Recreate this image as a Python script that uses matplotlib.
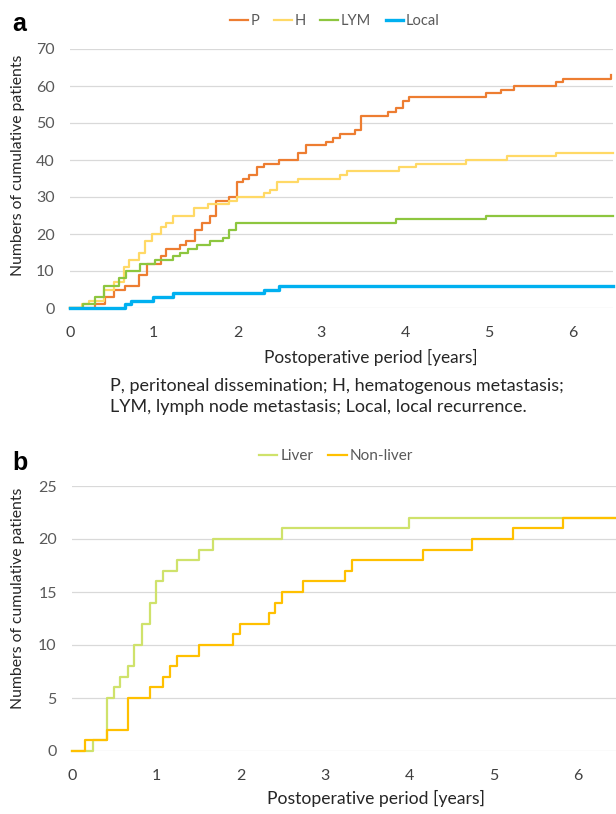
# Cumulative recurrence curves by pattern (a) and liver vs non-liver (b)

import matplotlib
matplotlib.use("Agg")
import matplotlib.pyplot as plt

plt.rcParams["font.family"] = ["Lato", "DejaVu Sans"]

# panel a: recurrence pattern, step times in years and cumulative counts
p_years = [0, 0.30, 0.42, 0.52, 0.66, 0.82, 0.92, 1.08, 1.15, 1.31, 1.38, 1.49, 1.57,
           1.67, 1.74, 1.90, 1.99, 2.07, 2.14, 2.23, 2.32, 2.49, 2.72, 2.82, 3.06, 3.14,
           3.22, 3.40, 3.47, 3.80, 3.89, 3.97, 4.05, 4.96, 5.14, 5.30, 5.80, 5.88, 6.46]
p_counts = [0, 1, 3, 5, 6, 9, 12, 14, 16, 17, 18, 21, 23, 25, 29, 30, 34, 35, 36, 38,
            39, 40, 42, 44, 45, 46, 47, 48, 52, 53, 54, 56, 57, 58, 59, 60, 61, 62, 63]

h_years = [0, 0.14, 0.23, 0.40, 0.52, 0.65, 0.70, 0.82, 0.90, 0.98, 1.08, 1.15, 1.23,
           1.48, 1.65, 1.90, 1.99, 2.32, 2.39, 2.47, 2.72, 3.22, 3.30, 3.93, 4.13, 4.72,
           5.22, 5.80, 6.48]
h_counts = [0, 1, 2, 5, 7, 11, 13, 15, 18, 20, 22, 23, 25, 27, 28, 29, 30, 31, 32, 34,
            35, 36, 37, 38, 39, 40, 41, 42, 42]

lym_years = [0, 0.16, 0.30, 0.41, 0.58, 0.67, 0.83, 1.01, 1.23, 1.31, 1.41, 1.51, 1.67,
             1.82, 1.90, 1.98, 3.89, 4.97, 6.48]
lym_counts = [0, 1, 3, 6, 8, 10, 12, 13, 14, 15, 16, 17, 18, 19, 21, 23, 24, 25, 25]

local_years = [0, 0.66, 0.73, 0.99, 1.23, 2.31, 2.49, 6.48]
local_counts = [0, 1, 2, 3, 4, 5, 6, 6]

# panel b: liver vs non-liver
liver_years = [0, 0.25, 0.42, 0.50, 0.57, 0.66, 0.74, 0.83, 0.92, 1.00, 1.08, 1.25,
               1.50, 1.67, 2.49, 3.99, 6.45]
liver_counts = [0, 1, 5, 6, 7, 8, 10, 12, 14, 16, 17, 18, 19, 20, 21, 22, 22]

nonliver_years = [0, 0.15, 0.42, 0.66, 0.92, 1.08, 1.16, 1.25, 1.50, 1.91, 1.99, 2.33,
                  2.41, 2.49, 2.74, 3.24, 3.32, 4.16, 4.74, 5.23, 5.82, 6.45]
nonliver_counts = [0, 1, 2, 5, 6, 7, 8, 9, 10, 11, 12, 13, 14, 15, 16, 17, 18, 19, 20,
                   21, 22, 22]

x_ticks = [0, 1, 2, 3, 4, 5, 6]
a_yticks = [0, 10, 20, 30, 40, 50, 60, 70]
b_yticks = [0, 5, 10, 15, 20, 25]

grid_col = "#D9D9D9"
tick_col = "#595959"
W, H = 616, 814

fig = plt.figure(figsize=(6.16, 8.14), dpi=100)


def style(ax, yticks, xmax):
    for s in ax.spines.values():
        s.set_visible(False)
    ax.set_xlim(0, xmax)
    ax.set_ylim(0, yticks[-1])
    ax.set_yticks(yticks)
    ax.set_xticks(x_ticks)
    ax.yaxis.grid(True, color=grid_col, lw=0.9)
    ax.set_axisbelow(True)
    ax.tick_params(length=0, labelsize=11.5, colors=tick_col, pad=11)
    ax.tick_params(axis="x", pad=13, labelcolor="#404040")


# ---- panel a
ax1 = fig.add_axes([70 / W, 1 - 308 / H, 543 / W, 259 / H])
style(ax1, a_yticks, 6.48)
l1, = ax1.step(p_years, p_counts, where="post", color="#ED7D31", lw=1.6, label="P")
l2, = ax1.step(h_years, h_counts, where="post", color="#FFD966", lw=1.6, label="H")
l3, = ax1.step(lym_years, lym_counts, where="post", color="#8DC63F", lw=1.6, label="LYM")
l4, = ax1.step(local_years, local_counts, where="post", color="#00B0F0", lw=2.4, label="Local")
for ln in (l1, l2, l3, l4):
    ln.set_clip_on(False)

fig.legend(handles=[l1, l2, l3, l4], loc="center", bbox_to_anchor=(335 / W, 1 - 21 / H),
           ncol=4, frameon=False, fontsize=10.5, handlelength=1.2, handletextpad=0.2,
           columnspacing=1.0, labelcolor=tick_col)

fig.text(12 / W, 1 - 24 / H, "a", fontsize=18, fontweight="bold",
         family="Liberation Sans", va="center")
fig.text(18 / W, 1 - 165 / H, "Numbers of cumulative patients", rotation=90,
         fontsize=11.3, color="#262626", ha="center", va="center")
fig.text(371 / W, 1 - 357 / H, "Postoperative period [years]", fontsize=12.4,
         color="#262626", ha="center", va="center")
fig.text(110 / W, 1 - 386 / H, "P, peritoneal dissemination; H, hematogenous metastasis;",
         fontsize=13, color="#262626", ha="left", va="center")
fig.text(110 / W, 1 - 407 / H, "LYM, lymph node metastasis; Local, local recurrence.",
         fontsize=13, color="#262626", ha="left", va="center")

# ---- panel b
ax2 = fig.add_axes([72 / W, 1 - 751 / H, 544 / W, 265 / H])
style(ax2, b_yticks, 6.45)
m1, = ax2.step(liver_years, liver_counts, where="post", color="#CFE26B", lw=1.6, label="Liver")
m2, = ax2.step(nonliver_years, nonliver_counts, where="post", color="#FFC000", lw=1.6,
               label="Non-liver")
for ln in (m1, m2):
    ln.set_clip_on(False)

fig.legend(handles=[m1, m2], loc="center", bbox_to_anchor=(336 / W, 1 - 456 / H),
           ncol=2, frameon=False, fontsize=11, handlelength=1.2, handletextpad=0.2,
           columnspacing=1.0, labelcolor=tick_col)

fig.text(12 / W, 1 - 463 / H, "b", fontsize=18, fontweight="bold",
         family="Liberation Sans", va="center")
fig.text(18 / W, 1 - 598 / H, "Numbers of cumulative patients", rotation=90,
         fontsize=11.3, color="#262626", ha="center", va="center")
fig.text(376 / W, 1 - 798 / H, "Postoperative period [years]", fontsize=12.6,
         color="#262626", ha="center", va="center")

fig.savefig("out.png", dpi=100)
